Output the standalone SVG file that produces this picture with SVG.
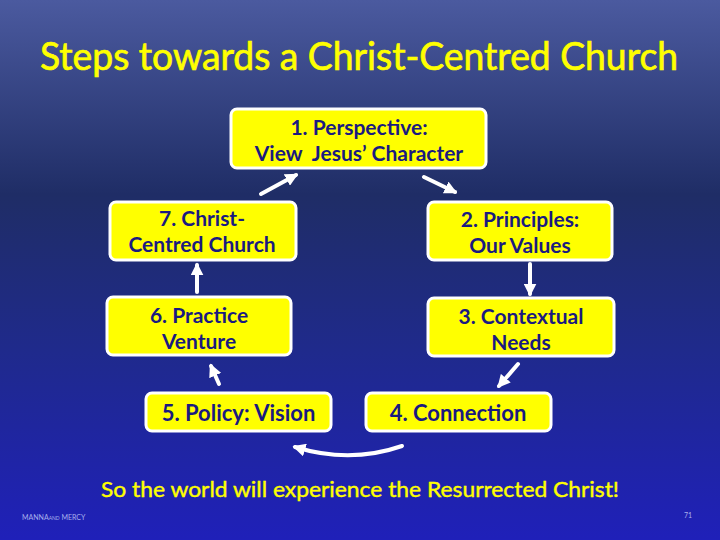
<svg xmlns="http://www.w3.org/2000/svg" width="720" height="540" viewBox="0 0 720 540">
<defs>
<linearGradient id="bg" x1="0" y1="0" x2="0" y2="1">
<stop offset="0" stop-color="#4b5a9f"/>
<stop offset="0.36" stop-color="#1f2d66"/>
<stop offset="0.65" stop-color="#1f2a8c"/>
<stop offset="1" stop-color="#1f20b9"/>
</linearGradient>
<marker id="ah" viewBox="0 0 10 10" refX="8" refY="5" markerWidth="13" markerHeight="13" markerUnits="userSpaceOnUse" orient="auto">
<path d="M0,0 L10,5 L0,10 z" fill="#ffffff"/>
</marker>
</defs>
<style>
.box{fill:#ffff00;stroke:#ffffff;stroke-width:3}
.lbl{font-family:Lato,"Liberation Sans",sans-serif;font-weight:bold;font-size:21px;fill:#1a1a80;text-anchor:middle}
.big{font-size:22px}
.arr{stroke:#ffffff;stroke-width:4;fill:none;stroke-linecap:round}
.title{font-family:Lato,"Liberation Sans",sans-serif;font-size:38px;fill:#ffff00;stroke:#ffff00;stroke-width:0.7;text-anchor:middle}
.foot{font-family:Lato,"Liberation Sans",sans-serif;fill:#a8b0ec}
</style>
<rect width="720" height="540" fill="url(#bg)"/>
<text class="title" x="359" y="70" textLength="638" lengthAdjust="spacingAndGlyphs">Steps towards a Christ-Centred Church</text>

<g id="n1"><rect class="box" x="231" y="109" width="255" height="59" rx="6"/>
<text class="lbl" x="359" y="135.2">1. Perspective:</text>
<text class="lbl" x="359" y="160.8" xml:space="preserve">View  Jesus’ Character</text></g>
<g id="n2"><rect class="box" x="428" y="202" width="184" height="58" rx="6"/>
<text class="lbl" x="520" y="227.2">2. Principles:</text>
<text class="lbl" x="520" y="252.8">Our Values</text></g>
<g id="n3"><rect class="box" x="428" y="298" width="186" height="58" rx="6"/>
<text class="lbl" x="521" y="324.2">3. Contextual</text>
<text class="lbl" x="521" y="349.8">Needs</text></g>
<g id="n4"><rect class="box" x="366" y="393" width="185" height="38" rx="6"/>
<text class="lbl big" x="458" y="421">4. Connection</text></g>
<g id="n5"><rect class="box" x="146" y="393" width="185" height="38" rx="6"/>
<text class="lbl big" x="238.5" y="421">5. Policy: Vision</text></g>
<g id="n6"><rect class="box" x="107" y="297" width="184" height="58" rx="6"/>
<text class="lbl" x="199" y="323.2">6. Practice</text>
<text class="lbl" x="199" y="348.8">Venture</text></g>
<g id="n7"><rect class="box" x="110" y="202" width="186" height="58" rx="6"/>
<text class="lbl" x="202" y="226.2">7. Christ-</text>
<text class="lbl" x="202" y="251.8">Centred Church</text></g>

<g id="connectors">
<line class="arr" x1="261" y1="194" x2="296" y2="175" marker-end="url(#ah)"/>
<line class="arr" x1="424" y1="177" x2="455" y2="192" marker-end="url(#ah)"/>
<line class="arr" x1="530" y1="264" x2="530" y2="294" marker-end="url(#ah)"/>
<line class="arr" x1="518" y1="364" x2="499" y2="386" marker-end="url(#ah)"/>
<path class="arr" d="M402,446 Q350,464 295,447" marker-end="url(#ah)"/>
<line class="arr" x1="219" y1="384" x2="211" y2="366" marker-end="url(#ah)"/>
<line class="arr" x1="197" y1="292" x2="197" y2="265" marker-end="url(#ah)"/>
</g>

<text x="360" y="497" font-family="Lato,'Liberation Sans',sans-serif" font-size="21" fill="#ffff00" stroke="#ffff00" stroke-width="0.4" text-anchor="middle" textLength="518" lengthAdjust="spacingAndGlyphs">So the world will experience the Resurrected Christ!</text>
<text class="foot" x="22" y="520" font-size="7">MANNA<tspan font-size="5">AND</tspan> MERCY</text>
<text class="foot" x="684" y="518" font-size="7">71</text>
</svg>
